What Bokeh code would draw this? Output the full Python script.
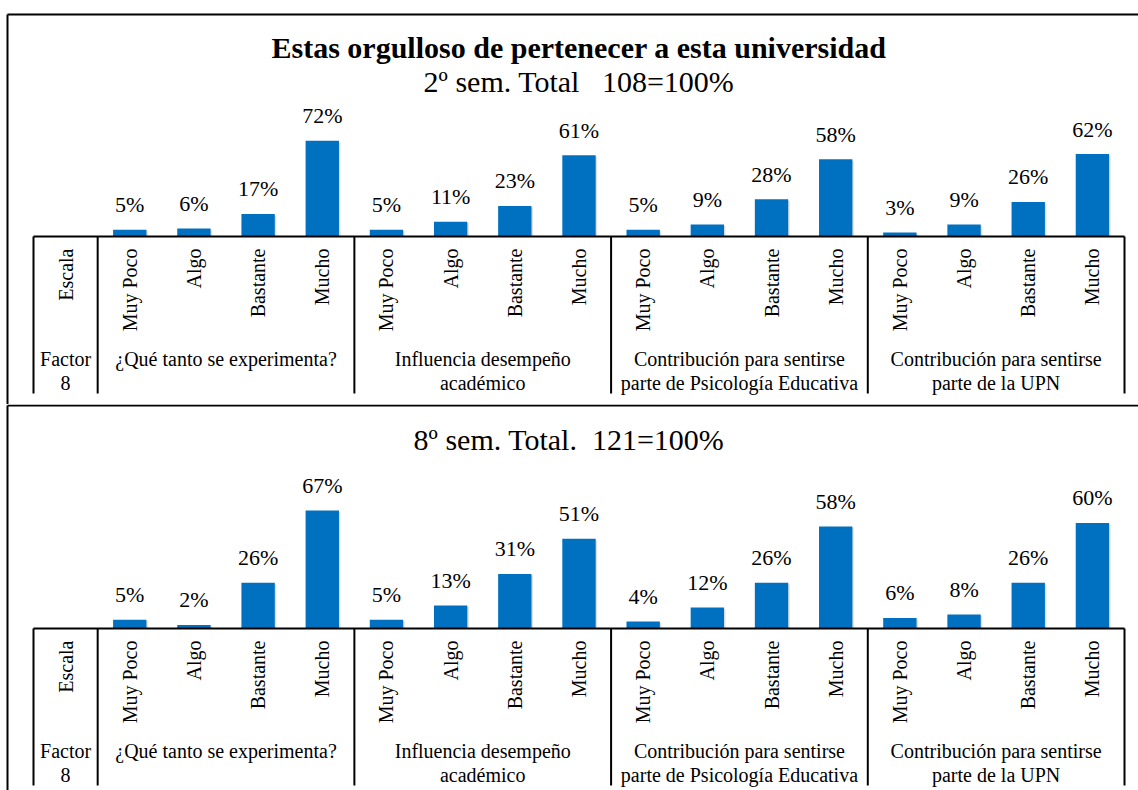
import numpy as np
from bokeh.plotting import figure
from bokeh.models import Range1d
from bokeh.layouts import column
from bokeh.core.properties import value
from bokeh.embed import file_html
from bokeh.resources import INLINE

# ---------------- data ----------------
escala = ["Muy Poco", "Algo", "Bastante", "Mucho"]
factores = [
    "¿Qué tanto se experimenta?",
    "Influencia desempeño\nacadémico",
    "Contribución para sentirse\nparte de Psicología Educativa",
    "Contribución para sentirse\nparte de la UPN",
]
sem2_experimenta = [5, 6, 17, 72]
sem2_desempeno = [5, 11, 23, 61]
sem2_psicologia = [5, 9, 28, 58]
sem2_upn = [3, 9, 26, 62]

sem8_experimenta = [5, 2, 26, 67]
sem8_desempeno = [5, 13, 31, 51]
sem8_psicologia = [4, 12, 26, 58]
sem8_upn = [6, 8, 26, 60]

titulo = "Estas orgulloso de pertenecer a esta universidad"
subtitulo_2 = "2º sem. Total\u00a0\u00a0\u00a0108=100%"
subtitulo_8 = "8º sem. Total.\u00a0\u00a0121=100%"

# ---------------- styling ----------------
FONT = value("Liberation Serif")
BLUE = "#0070C0"
W = 1138
N = 1 + len(escala) * len(factores)
LEFT_PX, RIGHT_PX = 33, 1124
ppu = (RIGHT_PX - LEFT_PX) / N


def panel(H, base, pxpp, groups, border_top, texts):
    x0 = -LEFT_PX / ppu
    p = figure(width=W, height=H,
               x_range=Range1d(x0, x0 + W / ppu),
               y_range=Range1d(-(H - base) / pxpp, base / pxpp),
               x_axis_location=None, y_axis_location=None,
               toolbar_location=None, output_backend="svg",
               min_border=0, outline_line_color=None,
               background_fill_color="white", border_fill_color="white")
    p.grid.grid_line_color = None
    p.extra_y_ranges = {"px": Range1d(H, 0)}
    p.extra_x_ranges = {"pxx": Range1d(0, W)}

    nl = len(escala)
    xs, tops, labs = [], [], []
    for g, vals in enumerate(groups):
        for j, v in enumerate(vals):
            xs.append(1 + nl * g + j + 0.5)
            tops.append(v)
            labs.append(escala[j])
    xs = np.array(xs)
    tops = np.array(tops, dtype=float)

    # soft shadow + bars
    p.vbar(x=xs + 1.5 / ppu, top=tops - 1.5 / pxpp, bottom=0, width=0.52,
           fill_color="black", fill_alpha=0.12, line_color=None)
    p.vbar(x=xs, top=tops, bottom=0, width=0.52, fill_color=BLUE, line_color=None)

    # value labels
    p.text(x=xs, y=tops + 25 / pxpp, text=[f"{int(v)}%" for v in tops],
           text_align="center", text_baseline="alphabetic",
           text_font=FONT, text_font_size="22px", text_color="black")

    # category (level) labels, rotated
    p.text(x=list(xs) + [0.5], y=[base + 12] * (len(xs) + 1), y_range_name="px",
           text=labs + ["Escala"], angle=np.pi / 2,
           text_align="right", text_baseline="middle",
           text_font=FONT, text_font_size="20px", text_color="black")

    # group labels
    gx = [1 + nl * g + nl / 2 for g in range(len(factores))] + [0.5]
    p.text(x=gx, y=[base + 111] * len(gx), y_range_name="px",
           text=factores + ["Factor\n8"],
           text_align="center", text_baseline="top", text_line_height=1.1,
           text_font=FONT, text_font_size="20px", text_color="black")

    # axis line and dividers
    p.segment(x0=[0], y0=[base], x1=[N], y1=[base], y_range_name="px",
              line_color="black", line_width=2)
    bounds = [0] + [1 + nl * g for g in range(len(factores) + 1)]
    p.segment(x0=bounds, y0=[base] * len(bounds), x1=bounds,
              y1=[base + 157] * len(bounds), y_range_name="px",
              line_color="black", line_width=2)

    # panel borders
    p.line(x=[7, W], y=[border_top, border_top], x_range_name="pxx",
           y_range_name="px", line_color="black", line_width=2)
    p.line(x=[7, 7], y=[border_top, H], x_range_name="pxx",
           y_range_name="px", line_color="black", line_width=2)

    # titles
    for (txt, cx, cy, bold) in texts:
        p.text(x=[cx], y=[cy], text=[txt], x_range_name="pxx", y_range_name="px",
               text_align="center", text_baseline="middle",
               text_font=FONT, text_font_size="30px",
               text_font_style="bold" if bold else "normal", text_color="black")
    return p


p1 = panel(404, 236, 1.33,
           [sem2_experimenta, sem2_desempeno, sem2_psicologia, sem2_upn],
           14, [(titulo, 578.5, 47, True), (subtitulo_2, 578.5, 81, False)])
p2 = panel(386, 224, 1.76,
           [sem8_experimenta, sem8_desempeno, sem8_psicologia, sem8_upn],
           1, [(subtitulo_8, 568.5, 35, False)])

layout = column(p1, p2, spacing=0)
open("out.html", "w").write(file_html(layout, INLINE))
